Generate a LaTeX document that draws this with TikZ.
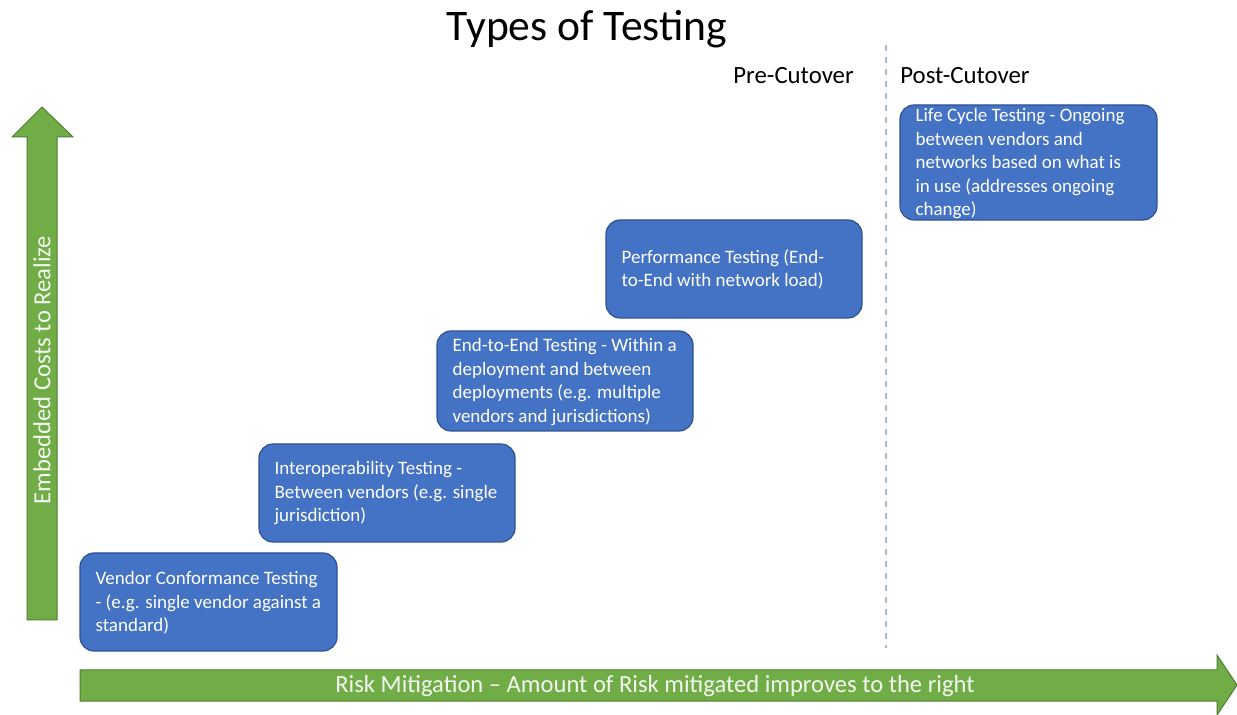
\documentclass[tikz,border=0pt]{standalone}
\usepackage{fontspec}
\setmainfont{Carlito}
\definecolor{boxblue}{HTML}{4472C4}
\definecolor{boxedge}{HTML}{2F528F}
\definecolor{arrgreen}{HTML}{70AD47}
\definecolor{arredge}{HTML}{507E32}
\definecolor{dashc}{HTML}{A9B8D6}
\begin{document}
\begin{tikzpicture}[x=0.5pt,y=-0.5pt,
  testbox/.style={draw=boxedge,line width=0.6pt,fill=boxblue,rounded corners=7pt,text=white,
    align=left,anchor=north west,inner sep=0pt,font=\fontsize{9.5}{11.75}\selectfont},
  hdr/.style={font=\fontsize{12.4}{14}\selectfont,anchor=base west,inner sep=0pt},
  bigarrow/.style={draw=arredge,line width=0.5pt,fill=arrgreen}]
\useasboundingbox (0,0) rectangle (1237,715);
% title
\node[font=\fontsize{21.8}{24}\selectfont,inner sep=0pt] (title) at (587,29) {Types of Testing};
% dashed separator
\coordinate (dtop) at (886,45);
\coordinate (dbot) at (886,648);
\draw[dashc,dashed,line width=0.6pt] (dtop) -- (dbot);
\node[hdr] (pre) at (733,84) {Pre-Cutover};
\node[hdr] (post) at (900,84) {Post-Cutover};
% vertical arrow
\draw[bigarrow] (27,620) -- (27,137) -- (12,137) -- (42,107) -- (73,137) -- (57,137) -- (57,620) -- cycle;
\node[rotate=90,text=white!92!arrgreen,font=\fontsize{12.3}{14}\selectfont,inner sep=0pt] (ylab) at (42,370) {Embedded Costs to Realize};
% horizontal arrow
\draw[bigarrow] (80,670) -- (1217,670) -- (1217,655) -- (1237,685) -- (1217,715) -- (1217,701) -- (80,701) -- cycle;
\node[text=white!92!arrgreen,font=\fontsize{12.3}{14}\selectfont,inner sep=0pt] (xlab) at (655,686) {Risk Mitigation -- Amount of Risk mitigated improves to the right};
% boxes
\path[testbox] (80,553) rectangle (337,651);
\node[testbox,draw=none,fill=none] (b1) at (95,571) {Vendor Conformance Testing\\- (e.g. single vendor against a\\standard)};
\path[testbox] (259,444) rectangle (515,542);
\node[testbox,draw=none,fill=none] (b2) at (274,461) {Interoperability Testing -\\Between vendors (e.g. single\\jurisdiction)};
\path[testbox] (437,331) rectangle (693,431);
\node[testbox,draw=none,fill=none] (b3) at (452,338) {End-to-End Testing - Within a\\deployment and between\\deployments (e.g. multiple\\vendors and jurisdictions)};
\path[testbox] (606,220) rectangle (862,318);
\node[testbox,draw=none,fill=none] (b4) at (621,249) {Performance Testing (End-\\to-End with network load)};
\path[testbox] (900,105) rectangle (1157,220);
\node[testbox,draw=none,fill=none] (b5) at (915,108) {Life Cycle Testing - Ongoing\\between vendors and\\networks based on what is\\in use (addresses ongoing\\change)};
\end{tikzpicture}
\end{document}
